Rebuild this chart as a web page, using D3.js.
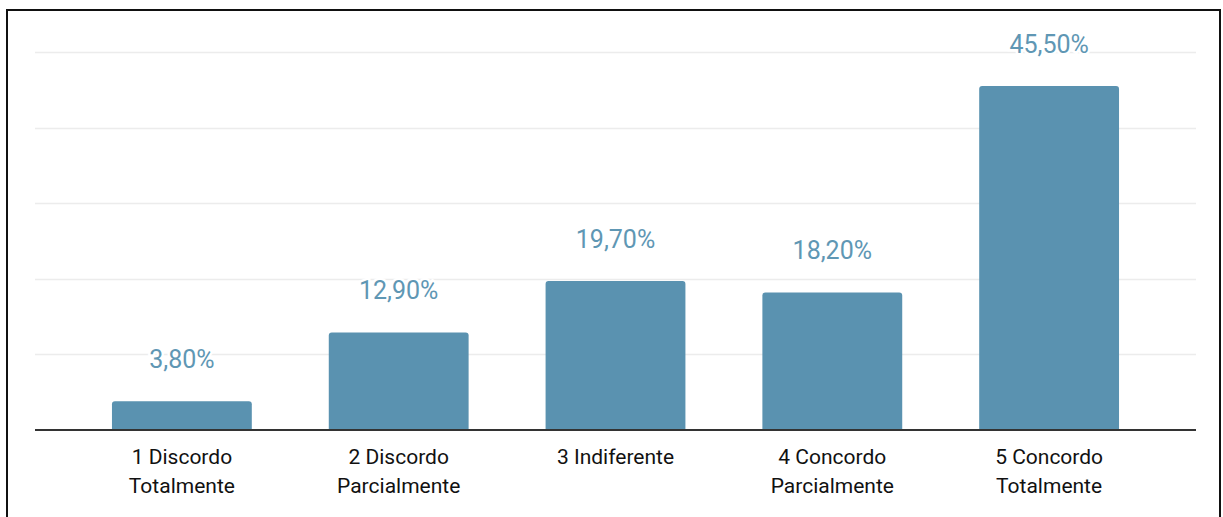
<!DOCTYPE html>
<html>
<head>
<meta charset="utf-8">
<script src="https://cdn.jsdelivr.net/npm/d3@7"></script>
<style>
  body { margin: 0; background: #fff; }
  svg { display: block; }
  text { font-family: Roboto, sans-serif; }
</style>
</head>
<body>
<svg id="chart" width="1223" height="517"></svg>
<script>
const categories = [
  ['1 Discordo', 'Totalmente'],
  ['2 Discordo', 'Parcialmente'],
  ['3 Indiferente'],
  ['4 Concordo', 'Parcialmente'],
  ['5 Concordo', 'Totalmente']
];
const values = [3.8, 12.9, 19.7, 18.2, 45.5];
const gridTicks = [10, 20, 30, 40, 50];

const fmt = v => v.toFixed(2).replace('.', ',') + '%';

const svg = d3.select('#chart');

// frame
svg.append('rect')
  .attr('x', 7).attr('y', 10)
  .attr('width', 1213).attr('height', 520)
  .attr('fill', 'none')
  .attr('stroke', '#111')
  .attr('stroke-width', 2);

const plotLeft = 35, plotRight = 1196, plotTop = 52, plotBottom = 430;

const x = d3.scaleBand()
  .domain(d3.range(values.length))
  .range([plotLeft, plotRight])
  .padding(0.355);

const y = d3.scaleLinear()
  .domain([0, 50])
  .range([plotBottom, plotTop]);

// gridlines
svg.append('g')
  .selectAll('line')
  .data(gridTicks)
  .enter().append('line')
  .attr('x1', plotLeft).attr('x2', plotRight)
  .attr('y1', d => Math.round(y(d)) + 0.5)
  .attr('y2', d => Math.round(y(d)) + 0.5)
  .attr('stroke', '#ececec')
  .attr('stroke-width', 1.5);

// bars with rounded top corners
const r = 3;
svg.append('g')
  .selectAll('path')
  .data(values)
  .enter().append('path')
  .attr('fill', '#5a92b0')
  .attr('d', (d, i) => {
    const x0 = x(i), w = x.bandwidth(), y0 = y(d), yb = y(0);
    return `M${x0},${yb}V${y0 + r}Q${x0},${y0} ${x0 + r},${y0}H${x0 + w - r}Q${x0 + w},${y0} ${x0 + w},${y0 + r}V${yb}Z`;
  });

// value labels with white halo
svg.append('g')
  .selectAll('text')
  .data(values)
  .enter().append('text')
  .attr('x', (d, i) => x(i) + x.bandwidth() / 2)
  .attr('y', d => y(d) - 33)
  .attr('text-anchor', 'middle')
  .attr('font-size', 25)
  .attr('fill', '#5f97b4')
  .attr('stroke', '#fff')
  .attr('stroke-width', 5)
  .attr('paint-order', 'stroke')
  .text(d => fmt(d));

// baseline
svg.append('line')
  .attr('x1', plotLeft).attr('x2', plotRight)
  .attr('y1', plotBottom).attr('y2', plotBottom)
  .attr('stroke', '#333')
  .attr('stroke-width', 2);

// category labels
const cat = svg.append('g')
  .selectAll('text')
  .data(categories)
  .enter().append('text')
  .attr('x', (d, i) => x(i) + x.bandwidth() / 2)
  .attr('y', 464)
  .attr('text-anchor', 'middle')
  .attr('font-size', 21)
  .attr('fill', '#111');

cat.selectAll('tspan')
  .data(d => d)
  .enter().append('tspan')
  .attr('x', function () { return d3.select(this.parentNode).attr('x'); })
  .attr('dy', (d, i) => i === 0 ? 0 : 29)
  .text(d => d);
</script>
</body>
</html>
